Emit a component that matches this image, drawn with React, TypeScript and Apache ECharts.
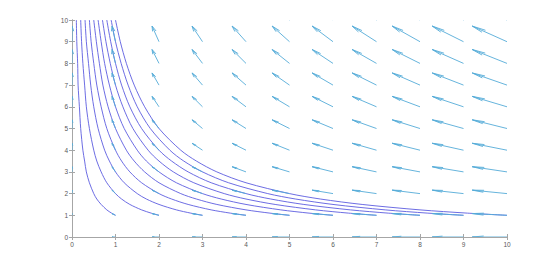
import React, { useEffect, useRef } from "react";
import * as echarts from "echarts";

// Quiver grid (integer lattice) and field components
const gridX = [0, 1, 2, 3, 4, 5, 6, 7, 8, 9, 10];
const gridY = [0, 1, 2, 3, 4, 5, 6, 7, 8, 9, 10];
// horizontal component depends on column, vertical component on row
const uByColumn = [0, -1, -2, -3, -4, -5, -6, -7, -8, -9, -10];
const vByRow = [0, 1, 2, 3, 4, 5, 6, 7, 8, 9, 10];

// Streamlines: shared y samples and x positions for each of the ten curves
const streamY = [1, 1.1, 1.25, 1.5, 1.75, 2, 2.5, 3, 3.5, 4, 5, 6, 7, 8, 9, 10];
const streamX = [
  [1, 0.91, 0.8, 0.67, 0.57, 0.5, 0.4, 0.33, 0.29, 0.25, 0.2, 0.17, 0.14, 0.13, 0.11, 0.1],
  [2, 1.82, 1.6, 1.33, 1.14, 1, 0.8, 0.67, 0.57, 0.5, 0.4, 0.33, 0.29, 0.25, 0.22, 0.2],
  [3, 2.73, 2.4, 2, 1.71, 1.5, 1.2, 1, 0.86, 0.75, 0.6, 0.5, 0.43, 0.38, 0.33, 0.3],
  [4, 3.64, 3.2, 2.67, 2.29, 2, 1.6, 1.33, 1.14, 1, 0.8, 0.67, 0.57, 0.5, 0.44, 0.4],
  [5, 4.55, 4, 3.33, 2.86, 2.5, 2, 1.67, 1.43, 1.25, 1, 0.83, 0.71, 0.63, 0.56, 0.5],
  [6, 5.45, 4.8, 4, 3.43, 3, 2.4, 2, 1.71, 1.5, 1.2, 1, 0.86, 0.75, 0.67, 0.6],
  [7, 6.36, 5.6, 4.67, 4, 3.5, 2.8, 2.33, 2, 1.75, 1.4, 1.17, 1, 0.88, 0.78, 0.7],
  [8, 7.27, 6.4, 5.33, 4.57, 4, 3.2, 2.67, 2.29, 2, 1.6, 1.33, 1.14, 1, 0.89, 0.8],
  [9, 8.18, 7.2, 6, 5.14, 4.5, 3.6, 3, 2.57, 2.25, 1.8, 1.5, 1.29, 1.13, 1, 0.9],
  [10, 9.09, 8, 6.67, 5.71, 5, 4, 3.33, 2.86, 2.5, 2, 1.67, 1.43, 1.25, 1.11, 1],
];

const tickLabels = ["0", "1", "2", "3", "4", "5", "6", "7", "8", "9", "10"];

const ARROW_SCALE = 0.08;
const HEAD_ALPHA = 0.33;
const HEAD_BETA = 0.17;
const ARROW_COLOR = "#55acd8";
const STREAM_COLOR = "#5c5ce0";
const AXIS_COLOR = "#a6a6a6";

export default function App() {
  const ref = useRef<HTMLDivElement>(null);

  useEffect(() => {
    if (!ref.current) return;
    const chart = echarts.init(ref.current, null, { renderer: "svg" });

    const quiverData: number[][] = [];
    gridY.forEach((y, j) => {
      gridX.forEach((x, i) => {
        quiverData.push([x, y, uByColumn[i], vByRow[j]]);
      });
    });

    const streamSeries = streamX.map((xs, k) => ({
      type: "line",
      name: "stream" + (k + 1),
      data: xs.map((x, idx) => [x, streamY[idx]]),
      smooth: 0.3,
      showSymbol: false,
      symbol: "none",
      lineStyle: { color: STREAM_COLOR, width: 0.9 },
      silent: true,
      z: 2,
    }));

    const axisCommon = {
      type: "value",
      min: 0,
      max: 10,
      interval: 1,
      splitLine: { show: false },
      axisLine: { show: true, lineStyle: { color: AXIS_COLOR, width: 1 } },
      axisTick: { show: true, inside: true, length: 3, lineStyle: { color: AXIS_COLOR } },
    };

    chart.setOption({
      animation: false,
      grid: { left: 72, right: 53, top: 20, bottom: 30, containLabel: false },
      xAxis: [
        {
          ...axisCommon,
          position: "bottom",
          axisLabel: {
            show: true,
            fontSize: 6.5,
            color: "#595959",
            fontFamily: "Liberation Sans, Arial, sans-serif",
            margin: 4,
            formatter: (v: number) => tickLabels[Math.round(v)] ?? "",
          },
        },
        {
          ...axisCommon,
          position: "top",
          axisLabel: { show: false },
        },
      ],
      yAxis: [
        {
          ...axisCommon,
          position: "left",
          axisLabel: {
            show: true,
            fontSize: 6.5,
            color: "#595959",
            fontFamily: "Liberation Sans, Arial, sans-serif",
            margin: 4,
            formatter: (v: number) => tickLabels[Math.round(v)] ?? "",
          },
        },
        {
          ...axisCommon,
          position: "right",
          axisLabel: { show: false },
        },
      ],
      series: [
        ...streamSeries,
        {
          type: "custom",
          name: "quiver",
          clip: true,
          silent: true,
          z: 3,
          data: quiverData,
          renderItem: (params: any, api: any) => {
            const x = api.value(0);
            const y = api.value(1);
            const u = api.value(2) * ARROW_SCALE;
            const v = api.value(3) * ARROW_SCALE;
            const tx = x + u;
            const ty = y + v;
            const h1 = [tx - HEAD_ALPHA * (u + HEAD_BETA * v), ty - HEAD_ALPHA * (v - HEAD_BETA * u)];
            const h2 = [tx - HEAD_ALPHA * (u - HEAD_BETA * v), ty - HEAD_ALPHA * (v + HEAD_BETA * u)];
            const pTail = api.coord([x, y]);
            const pTip = api.coord([tx, ty]);
            const pH1 = api.coord(h1);
            const pH2 = api.coord(h2);
            const style = { stroke: ARROW_COLOR, lineWidth: 0.9, fill: null };
            return {
              type: "group",
              children: [
                { type: "polyline", shape: { points: [pTail, pTip] }, style },
                { type: "polyline", shape: { points: [pH1, pTip, pH2] }, style },
              ],
            };
          },
        },
      ],
    });

    return () => chart.dispose();
  }, []);

  return (
    <div
      ref={ref}
      style={{ position: "fixed", left: 0, top: 0, width: 560, height: 267, background: "#fff" }}
    />
  );
}
